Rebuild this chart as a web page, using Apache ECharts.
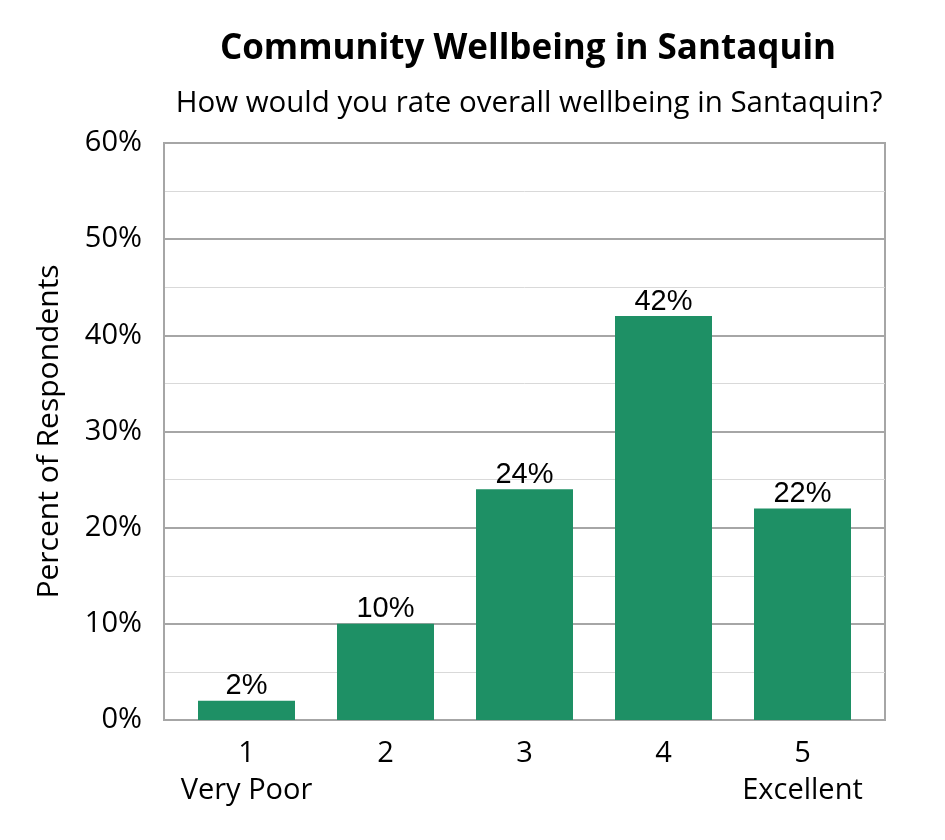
<!DOCTYPE html>
<html><head><meta charset="utf-8">
<script src="https://cdn.jsdelivr.net/npm/echarts@6/dist/echarts.min.js"></script>
<style>html,body{margin:0;padding:0;background:#fff}#c{width:945px;height:840px}</style>
</head><body><div id="c"></div>
<script>
const categories = ['1\nVery Poor', '2', '3', '4', '5\nExcellent'];
const values = [2, 10, 24, 42, 22];
const yTicks = [0, 10, 20, 30, 40, 50, 60];

const chart = echarts.init(document.getElementById('c'));
const F = '"Open Sans", Lato, sans-serif';
chart.setOption({
  animation: false,
  title: [
    {text: 'Community Wellbeing in Santaquin', left: 523, top: 27, textAlign: 'center',
     textStyle: {fontFamily: F, fontWeight: 'bold', fontSize: 35, color: '#000'}},
    {text: 'How would you rate overall wellbeing in Santaquin?', left: 524, top: 84, textAlign: 'center',
     textStyle: {fontFamily: F, fontWeight: 'normal', fontSize: 29.5, color: '#000'}}
  ],
  grid: [
    {left: 164, right: 60, top: 143, bottom: 120, show: true, borderColor: '#a6a6a6', borderWidth: 2},
    {left: 177, right: 73, top: 143, bottom: 120}
  ],
  xAxis: [
    {type: 'value', gridIndex: 0, min: 0, max: 1, show: false},
    {type: 'category', gridIndex: 1, data: categories,
     axisLine: {show: false}, axisTick: {show: false}, splitLine: {show: false},
     axisLabel: {interval: 0, fontFamily: F, fontSize: 29, color: '#000', lineHeight: 37, margin: 15}}
  ],
  yAxis: [
    {type: 'value', gridIndex: 0, min: 0, max: 60, interval: 10,
     name: 'Percent of Respondents', nameLocation: 'middle', nameGap: 100, nameRotate: 90,
     nameTextStyle: {fontFamily: F, fontSize: 30, color: '#000'},
     axisLine: {show: true, lineStyle: {color: '#a6a6a6', width: 2}},
     axisTick: {show: false},
     axisLabel: {fontFamily: F, fontSize: 29, color: '#000', formatter: v => yTicks.includes(v) ? v + '%' : '', margin: 22},
     splitLine: {lineStyle: {color: '#a6a6a6', width: 2}},
     minorTick: {show: false, splitNumber: 2},
     minorSplitLine: {show: true, lineStyle: {color: '#d9d9d9', width: 1}}},
    {type: 'value', gridIndex: 1, min: 0, max: 60, show: false}
  ],
  series: [{
    type: 'bar', xAxisIndex: 1, yAxisIndex: 1, data: values, barWidth: 97,
    itemStyle: {color: '#1e9065'},
    label: {show: true, position: 'top', distance: 0, formatter: p => p.value + '%',
      fontFamily: '"Liberation Sans", Arial, sans-serif', fontSize: 29, color: '#000'}
  }]
});
</script></body></html>
